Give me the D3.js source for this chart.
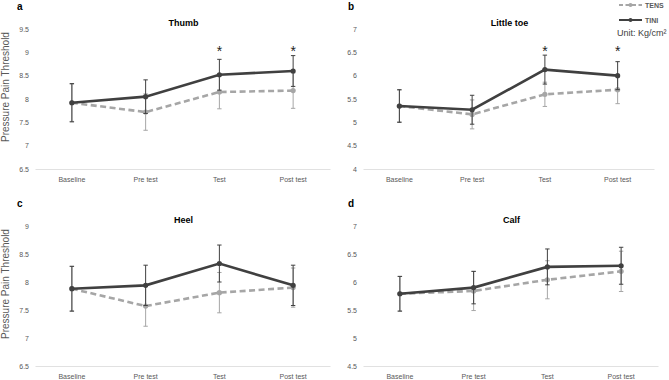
<!DOCTYPE html>
<html>
<head>
<meta charset="utf-8">
<script src="https://cdnjs.cloudflare.com/ajax/libs/d3/7.8.5/d3.min.js"></script>
<style>
    body { margin: 0; background: #fff; }
    svg { display: block; font-family: "Liberation Sans", Arial, sans-serif; }
    .tick-label { font-size: 7px; fill: #595959; }
    .cat-label { font-size: 7px; fill: #595959; }
    .panel-title { font-size: 9px; font-weight: bold; fill: #000; }
    .panel-letter { font-size: 10px; font-weight: bold; fill: #000; }
    .y-title { font-size: 10px; fill: #595959; }
</style>
</head>
<body>
<svg id="chart" width="669" height="380"></svg>
<script>
/////////////
/// DATA ///
/////////////

const categories = ['Baseline', 'Pre test', 'Test', 'Post test'];

// a - thumb
const thumbTINI = [7.92, 8.05, 8.52, 8.60];
const thumbTINIErr = [0.41, 0.36, 0.33, 0.33];
const thumbTENS = [7.92, 7.72, 8.15, 8.18];
const thumbTENSErr = [0.40, 0.39, 0.36, 0.38];
const thumbTicks = [6.5, 7, 7.5, 8, 8.5, 9, 9.5];
const thumbSig = [null, null, 9.1, 9.1];

// b - little toe
const toeTINI = [5.35, 5.27, 6.13, 6.00];
const toeTINIErr = [0.35, 0.31, 0.31, 0.30];
const toeTENS = [5.35, 5.17, 5.60, 5.70];
const toeTENSErr = [0.34, 0.31, 0.26, 0.30];
const toeTicks = [4, 4.5, 5, 5.5, 6, 6.5, 7];
const toeSig = [null, null, 6.6, 6.6];

// c - heel
const heelTINI = [7.88, 7.94, 8.33, 7.94];
const heelTINIErr = [0.40, 0.36, 0.33, 0.36];
const heelTENS = [7.88, 7.57, 7.81, 7.90];
const heelTENSErr = [0.40, 0.36, 0.36, 0.35];
const heelTicks = [6.5, 7, 7.5, 8, 8.5, 9];

// d - calf
const calfTINI = [5.79, 5.90, 6.27, 6.29];
const calfTINIErr = [0.31, 0.29, 0.32, 0.33];
const calfTENS = [5.79, 5.84, 6.04, 6.19];
const calfTENSErr = [0.31, 0.35, 0.34, 0.36];
const calfTicks = [4.5, 5, 5.5, 6, 6.5, 7];

// series colors
const colorTINI = '#404040';
const colorTENS = '#a6a6a6';

//////////////////
/// PANEL SETUP ///
//////////////////

const svg = d3.select('#chart');

const panels = [
    {letter: 'a', title: 'Thumb', tini: thumbTINI, tiniErr: thumbTINIErr, tens: thumbTENS, tensErr: thumbTENSErr,
     ticks: thumbTicks, sig: thumbSig, x0: 35, x1: 330, top: 29, bottom: 169, yTitle: true},
    {letter: 'b', title: 'Little toe', tini: toeTINI, tiniErr: toeTINIErr, tens: toeTENS, tensErr: toeTENSErr,
     ticks: toeTicks, sig: toeSig, x0: 363, x1: 654, top: 29, bottom: 169, yTitle: false},
    {letter: 'c', title: 'Heel', tini: heelTINI, tiniErr: heelTINIErr, tens: heelTENS, tensErr: heelTENSErr,
     ticks: heelTicks, sig: null, x0: 35, x1: 330, top: 226, bottom: 366, yTitle: true},
    {letter: 'd', title: 'Calf', tini: calfTINI, tiniErr: calfTINIErr, tens: calfTENS, tensErr: calfTENSErr,
     ticks: calfTicks, sig: null, x0: 363, x1: 658, top: 226, bottom: 366, yTitle: false}
];

// draws one series (line, error bars, markers)
function drawSeries(g, xc, yScale, values, errs, color, dashed) {
    const line = d3.line()
        .x(function(d, i) { return xc(i); })
        .y(function(d) { return yScale(d); });

    g.append('path')
        .datum(values)
        .attr('d', line)
        .attr('fill', 'none')
        .attr('stroke', color)
        .attr('stroke-width', 2.6)
        .attr('stroke-dasharray', dashed ? '6,3.5' : null);

    const bars = g.append('g').selectAll('g').data(values).enter().append('g');
    bars.append('line')
        .attr('x1', function(d, i) { return xc(i); })
        .attr('x2', function(d, i) { return xc(i); })
        .attr('y1', function(d, i) { return yScale(d - errs[i]); })
        .attr('y2', function(d, i) { return yScale(d + errs[i]); })
        .attr('stroke', color)
        .attr('stroke-width', 1);
    // caps
    [-1, 1].forEach(function(s) {
        bars.append('line')
            .attr('x1', function(d, i) { return xc(i) - 2.2; })
            .attr('x2', function(d, i) { return xc(i) + 2.2; })
            .attr('y1', function(d, i) { return yScale(d + s * errs[i]); })
            .attr('y2', function(d, i) { return yScale(d + s * errs[i]); })
            .attr('stroke', color)
            .attr('stroke-width', 1);
    });

    g.append('g').selectAll('circle').data(values).enter()
        .append('circle')
        .attr('cx', function(d, i) { return xc(i); })
        .attr('cy', function(d) { return yScale(d); })
        .attr('r', 2.6)
        .attr('fill', color);
}

function drawPanel(p) {
    const g = svg.append('g');

    const xScale = d3.scaleBand()
        .domain(categories)
        .range([p.x0, p.x1]);
    const xc = function(i) { return xScale(categories[i]) + xScale.bandwidth() / 2; };

    const yScale = d3.scaleLinear()
        .domain([p.ticks[0], p.ticks[p.ticks.length - 1]])
        .range([p.bottom, p.top]);

    // y tick labels (no axis line, as in the original)
    const yAxis = g.append('g')
        .attr('transform', 'translate(' + (p.x0 - 6) + ',0)')
        .call(d3.axisLeft(yScale).tickValues(p.ticks).tickSize(0).tickPadding(0)
            .tickFormat(function(d) { return d; }));
    yAxis.select('.domain').remove();
    yAxis.selectAll('text').attr('class', 'tick-label').attr('fill', null);

    // x axis
    const xAxis = g.append('g')
        .attr('transform', 'translate(0,' + p.bottom + ')')
        .call(d3.axisBottom(xScale).tickSize(0).tickPadding(8));
    xAxis.select('.domain').attr('stroke', '#d9d9d9').attr('stroke-width', 0.8);
    xAxis.selectAll('text').attr('class', 'cat-label').attr('fill', null);

    // title and panel letter
    g.append('text')
        .attr('class', 'panel-title')
        .attr('x', (p.x0 + p.x1) / 2 + 1)
        .attr('y', p.top - 3)
        .attr('text-anchor', 'middle')
        .text(p.title);
    g.append('text')
        .attr('class', 'panel-letter')
        .attr('x', p.x0 < 100 ? 17 : 348)
        .attr('y', p.top - 19)
        .text(p.letter);

    if (p.yTitle) {
        g.append('text')
            .attr('class', 'y-title')
            .attr('transform', 'translate(9,' + ((p.top + p.bottom) / 2 - 12) + ') rotate(-90)')
            .attr('text-anchor', 'middle')
            .text('Pressure Pain Threshold');
    }

    drawSeries(g, xc, yScale, p.tens, p.tensErr, colorTENS, true);
    drawSeries(g, xc, yScale, p.tini, p.tiniErr, colorTINI, false);

    // significance stars
    if (p.sig) {
        g.append('g').selectAll('text').data(p.sig).enter()
            .append('text')
            .attr('x', function(d, i) { return xc(i); })
            .attr('y', function(d) { return d === null ? 0 : yScale(d) + 8; })
            .attr('text-anchor', 'middle')
            .attr('font-size', 14)
            .attr('fill', '#222')
            .text(function(d) { return d === null ? '' : '*'; });
    }
}

panels.forEach(drawPanel);

//////////////
/// LEGEND ///
//////////////

const legend = svg.append('g');
const legendItems = [
    {name: 'TENS', color: colorTENS, dashed: true, y: 5},
    {name: 'TINI', color: colorTINI, dashed: false, y: 20}
];
legendItems.forEach(function(item) {
    legend.append('line')
        .attr('x1', 619).attr('x2', 642)
        .attr('y1', item.y).attr('y2', item.y)
        .attr('stroke', item.color)
        .attr('stroke-width', 2)
        .attr('stroke-dasharray', item.dashed ? '4,2.5' : null);
    legend.append('circle')
        .attr('cx', 630.5).attr('cy', item.y).attr('r', 2)
        .attr('fill', item.color);
    legend.append('text')
        .attr('x', 645).attr('y', item.y + 2.5)
        .attr('font-size', 7).attr('font-weight', 'bold')
        .attr('fill', '#595959')
        .text(item.name);
});
legend.append('text')
    .attr('x', 617).attr('y', 36)
    .attr('font-size', 9)
    .attr('fill', '#404040')
    .text('Unit: Kg/cm²');
</script>
</body>
</html>
